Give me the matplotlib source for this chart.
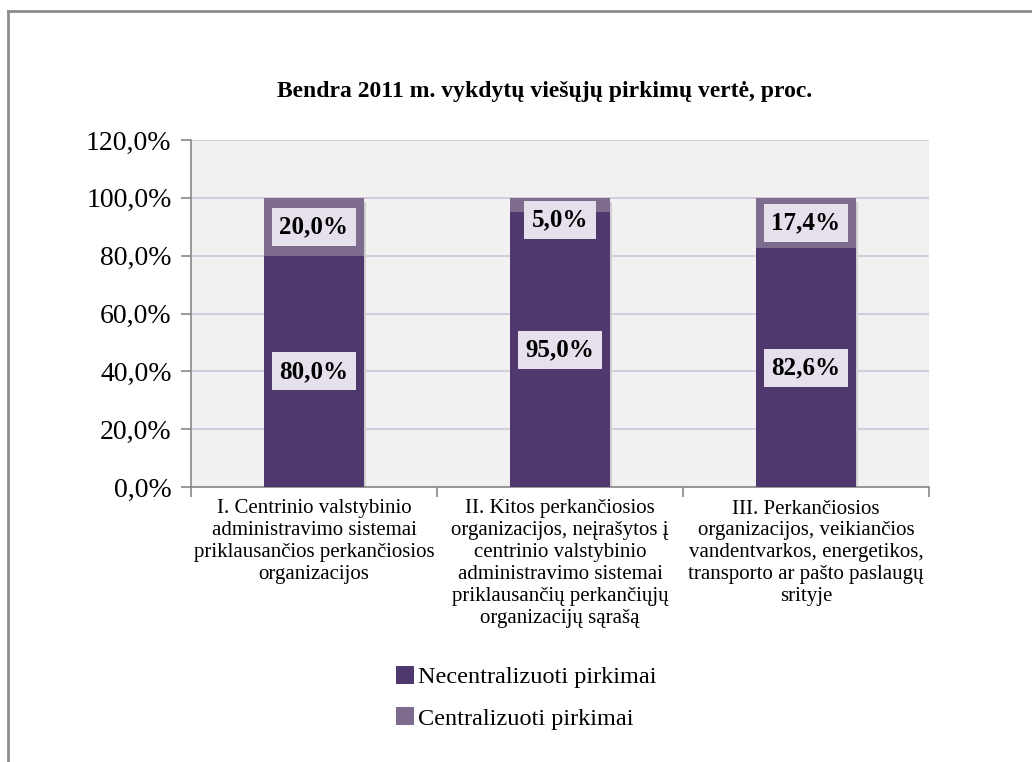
import matplotlib
matplotlib.use("Agg")
import matplotlib.pyplot as plt
from matplotlib.lines import Line2D
from matplotlib.patches import Patch
import numpy as np

title = "Bendra 2011 m. vykdytų viešųjų pirkimų vertė, proc."
categories = [
    "I. Centrinio valstybinio\nadministravimo sistemai\npriklausančios perkančiosios\norganizacijos",
    "II. Kitos perkančiosios\norganizacijos, neįrašytos į\ncentrinio valstybinio\nadministravimo sistemai\npriklausančių perkančiųjų\norganizacijų sąrašą",
    "III. Perkančiosios\norganizacijos, veikiančios\nvandentvarkos, energetikos,\ntransporto ar pašto paslaugų\nsrityje",
]
series_names = ["Necentralizuoti pirkimai", "Centralizuoti pirkimai"]
necentralizuoti = [80.0, 95.0, 82.6]
centralizuoti = [20.0, 5.0, 17.4]
yticks = [0, 20, 40, 60, 80, 100, 120]

colors = ["#4F386E", "#7E6C8F"]
serif = ["Liberation Serif", "DejaVu Serif"]

fig = plt.figure(figsize=(10.32, 7.62), dpi=100)
ax = fig.add_axes([191 / 1032, 1 - 487 / 762, (929 - 191) / 1032, (487 - 140) / 762])
ax.set_facecolor("#F1F1F1")

x = np.arange(len(categories))
w = 0.405
ax.bar(x + 0.010, np.add(necentralizuoti, centralizuoti) - 0.8, w, bottom=-0.5,
       color="#D0D0D0", zorder=2)
ax.bar(x, necentralizuoti, w, color=colors[0], zorder=3)
ax.bar(x, centralizuoti, w, bottom=necentralizuoti, color=colors[1], zorder=3)

ax.set_ylim(0, 120)
ax.set_xlim(-0.5, len(categories) - 0.5)
ax.set_yticks(yticks)
ax.set_yticklabels([f"{v:.1f}%".replace(".", ",") for v in yticks], fontfamily=serif, fontsize=20)
ax.yaxis.grid(True, color="#CDC6DC", linewidth=1.2, zorder=0)
ax.set_axisbelow(True)

ax.set_xticks(x)
ax.set_xticklabels(categories, fontfamily=serif, fontsize=15, linespacing=1.2)
ax.set_xticks(np.arange(-0.5, len(categories)), minor=True)
ax.tick_params(axis="x", which="major", length=0, pad=9)
ax.tick_params(axis="x", which="minor", length=7, color="#888888", width=1.2)
ax.tick_params(axis="y", length=7, color="#888888", width=1.2, pad=7)

for s in ["top", "right"]:
    ax.spines[s].set_visible(False)
for s in ["left", "bottom"]:
    ax.spines[s].set_color("#888888")
    ax.spines[s].set_linewidth(1.2)

box = dict(boxstyle="square,pad=0.3", facecolor="#E6E0EC", edgecolor="none")
def label(xc, bottom, val):
    top = bottom + val
    yc = bottom + val / 2
    txt = f"{val:.1f}%".replace(".", ",")
    if val < 10:
        ax.annotate(txt, (xc, top), xytext=(0, -7.5), textcoords="offset points",
                    ha="center", va="top", fontfamily=serif, fontsize=18,
                    fontweight="bold", bbox=box, zorder=5)
    else:
        ax.text(xc, yc, txt, ha="center", va="center", fontfamily=serif, fontsize=18,
                fontweight="bold", bbox=box, zorder=5)

for i in range(len(categories)):
    label(x[i], 0, necentralizuoti[i])
    label(x[i], necentralizuoti[i], centralizuoti[i])

fig.text(545 / 1032, 1 - 92 / 762, title, ha="center", va="center",
         fontfamily=serif, fontsize=17, fontweight="bold")

handles = [Patch(facecolor=c, edgecolor="none") for c in colors]
fig.legend(handles, series_names, loc="upper left", bbox_to_anchor=(396 / 1032, 1 - 666 / 762),
           frameon=False, prop={"family": serif, "size": 17.5}, handlelength=0.75, handleheight=0.75,
           handletextpad=0.15, labelspacing=0.78, borderaxespad=0, borderpad=0)

fig.add_artist(Line2D([8 / 1032, 8 / 1032], [0, 1 - 11 / 762], transform=fig.transFigure,
                      color="#8C8C8C", linewidth=2))
fig.add_artist(Line2D([8 / 1032, 1], [1 - 11 / 762, 1 - 11 / 762], transform=fig.transFigure,
                      color="#8C8C8C", linewidth=2))

fig.savefig("out.png", dpi=100)
